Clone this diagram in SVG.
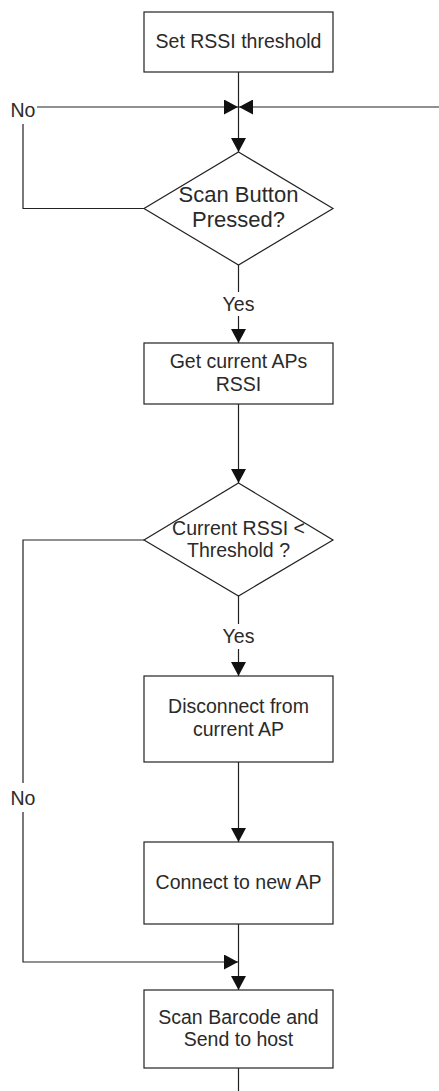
<svg xmlns="http://www.w3.org/2000/svg" width="439" height="1091" viewBox="0 0 439 1091">
<style>
.n{fill:#fff;stroke:#222;stroke-width:1.2}
.c{fill:none;stroke:#222;stroke-width:1.2}
text{font-family:"Liberation Sans",Arial,sans-serif;font-size:19.5px;fill:#2a2a2a;text-anchor:middle}
.big{font-size:22px}
</style>
<defs>
<marker id="ah" viewBox="0 0 14 15" refX="14" refY="7.5" markerWidth="14" markerHeight="15" markerUnits="userSpaceOnUse" orient="auto">
<path d="M0,0 L14,7.5 L0,15 Z" fill="#111"/>
</marker>
</defs>
<rect width="439" height="1091" fill="#fff"/>
<g id="connectors">
<path class="c" d="M238.5,72 V152" marker-end="url(#ah)"/>
<path class="c" d="M144,208.5 H23 V124"/>
<path class="c" d="M37,107 H238" marker-end="url(#ah)"/>
<path class="c" d="M439,107 H239" marker-end="url(#ah)"/>
<path class="c" d="M238.5,265 V292"/>
<path class="c" d="M238.5,316 V343" marker-end="url(#ah)"/>
<path class="c" d="M238.5,404 V483" marker-end="url(#ah)"/>
<path class="c" d="M238.5,596 V624"/>
<path class="c" d="M238.5,649 V676" marker-end="url(#ah)"/>
<path class="c" d="M238.5,762 V842" marker-end="url(#ah)"/>
<path class="c" d="M238.5,924 V990" marker-end="url(#ah)"/>
<path class="c" d="M144,540 H23 V783"/>
<path class="c" d="M23,812 V962 H238" marker-end="url(#ah)"/>
<path class="c" d="M238.5,1068 V1091"/>
<text x="23" y="117">No</text>
<text x="238.5" y="311">Yes</text>
<text x="238.5" y="643">Yes</text>
<text x="23" y="805">No</text>
</g>
<g id="n1"><rect class="n" x="144" y="12" width="189" height="60"/><text x="238.5" y="48">Set RSSI threshold</text></g>
<g id="n2"><path class="n" d="M238.5,152 L333,208.5 L238.5,265 L144,208.5 Z"/><text class="big" x="238.5" y="202">Scan Button</text><text class="big" x="238.5" y="227">Pressed?</text></g>
<g id="n3"><rect class="n" x="144" y="343" width="189" height="61"/><text x="238.5" y="368">Get current APs</text><text x="238.5" y="391">RSSI</text></g>
<g id="n4"><path class="n" d="M238.5,483 L333,540 L238.5,596 L144,540 Z"/><text x="238.5" y="535">Current RSSI &lt;</text><text x="238.5" y="557">Threshold ?</text></g>
<g id="n5"><rect class="n" x="144" y="676" width="189" height="86"/><text x="238.5" y="713">Disconnect from</text><text x="238.5" y="736">current AP</text></g>
<g id="n6"><rect class="n" x="144" y="842" width="189" height="82"/><text x="238.5" y="889">Connect to new AP</text></g>
<g id="n7"><rect class="n" x="144" y="990" width="189" height="78"/><text x="238.5" y="1024">Scan Barcode and</text><text x="238.5" y="1046">Send to host</text></g>
</svg>
